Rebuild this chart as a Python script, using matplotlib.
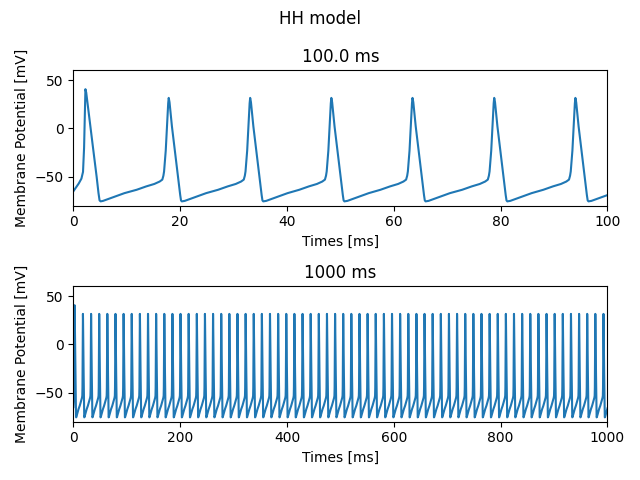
import matplotlib
matplotlib.use("Agg")
import matplotlib.pyplot as plt

# spike peak times [ms]
spike_times = [2.25, 17.85, 33.1, 48.3, 63.5, 78.8, 94.0, 109.2, 124.5, 139.7,
               154.9, 170.2, 185.4, 200.6, 215.8, 231.1, 246.3, 261.5, 276.8,
               292.0, 307.2, 322.5, 337.7, 352.9, 368.1, 383.4, 398.6, 413.8,
               429.1, 444.3, 459.5, 474.8, 490.0, 505.2, 520.4, 535.7, 550.9,
               566.1, 581.4, 596.6, 611.8, 627.1, 642.3, 657.5, 672.7, 688.0,
               703.2, 718.4, 733.7, 748.9, 764.1, 779.4, 794.6, 809.8, 825.0,
               840.3, 855.5, 870.7, 886.0, 901.2, 916.4, 931.7, 946.9, 962.1,
               977.3, 992.6]
spike_peaks = [40.5] + [31.5] * (len(spike_times) - 1)

# onset of the first spike (t, V)
onset_t = [0.0, 0.5, 1.0, 1.5, 1.8, 2.0, 2.15]
onset_v = [-65, -61, -57, -52, -45, -20, 15]

# first spike repolarisation (dt after peak, V)
first_fall_dt = [0.15, 0.7, 1.4, 2.1, 2.45, 2.65, 2.85, 3.3, 4.3, 5.5, 7.3]
first_fall_v = [37, 12, -19, -50, -67, -74.5, -75.5, -75, -73, -70.5, -67]

# regular spike repolarisation (dt after peak, V)
fall_dt = [0.15, 0.6, 1.3, 1.9, 2.15, 2.3, 2.45, 3.0, 4.0, 5.2, 7.0, 7.6]
fall_v = [27, 2, -30, -57, -69, -74.5, -75.5, -75, -73, -70.5, -67, -66]

# upstroke before a spike (dt before peak, V)
rise_dt = [-6.0, -4.2, -2.7, -1.7, -1.2, -1.0, -0.87, -0.56, -0.25, -0.1]
rise_v = [-63.5, -60, -57.5, -55, -53, -49, -44.5, -23, 11, 26]

t = list(onset_t)
v = list(onset_v)
for i, (ts, vp) in enumerate(zip(spike_times, spike_peaks)):
    t.append(ts)
    v.append(vp)
    if i == 0:
        dts, vs = first_fall_dt, first_fall_v
    elif i == len(spike_times) - 1:
        dts, vs = fall_dt, fall_v
    else:
        dts, vs = fall_dt[:-1], fall_v[:-1]
    for d, val in zip(dts, vs):
        t.append(ts + d)
        v.append(val)
    if i < len(spike_times) - 1:
        nxt = spike_times[i + 1]
        for d, val in zip(rise_dt, rise_v):
            t.append(nxt + d)
            v.append(val)

fig = plt.figure(figsize=(6.4, 4.8), dpi=100)
fig.suptitle("HH model")

plt.subplot(2, 1, 1)
plt.plot(t, v)
plt.title("100.0 ms")
plt.xlabel("Times [ms]")
plt.ylabel("Membrane Potential [mV]")
plt.xlim(0, 100)
plt.ylim(-80, 60)

plt.subplot(2, 1, 2)
plt.plot(t, v)
plt.title("1000 ms")
plt.xlabel("Times [ms]")
plt.ylabel("Membrane Potential [mV]")
plt.xlim(0, 1000)
plt.ylim(-80, 60)

plt.tight_layout()
plt.savefig("out.png")
